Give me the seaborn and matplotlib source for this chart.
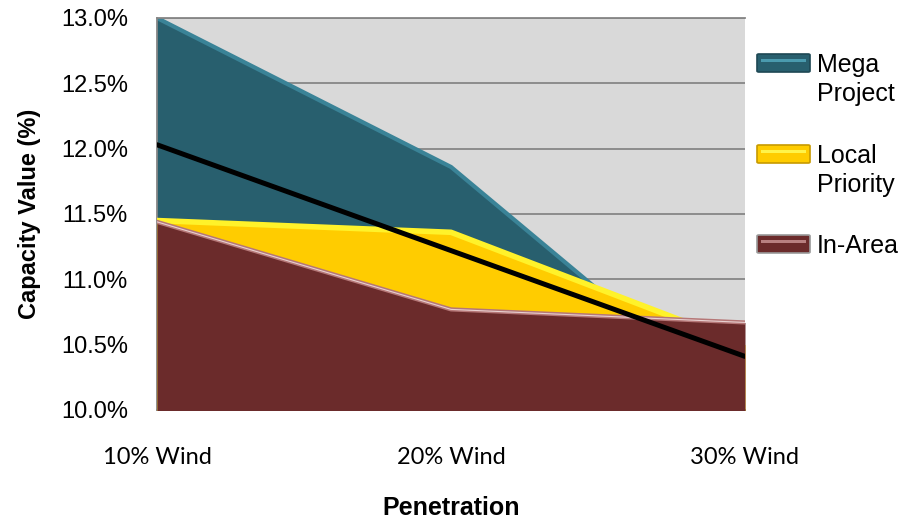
import matplotlib
matplotlib.use("Agg")
import matplotlib.pyplot as plt
from matplotlib.patches import FancyBboxPatch
import seaborn as sns
import pandas as pd

# ---- data ----
penetration = ["10% Wind", "20% Wind", "30% Wind"]
mega_project = [13.00, 11.86, 9.98]
local_priority = [11.45, 11.36, 10.50]
in_area = [11.44, 10.77, 10.67]
trend = [12.03, 11.22, 10.41]
y_ticks = [10.0, 10.5, 11.0, 11.5, 12.0, 12.5, 13.0]
series_names = ["Mega\nProject", "Local\nPriority", "In-Area"]

df = pd.DataFrame({
    "pos": range(len(penetration)),
    "label": penetration,
    "mega": mega_project,
    "local": local_priority,
    "inarea": in_area,
    "trend": trend,
})

sns.set_style("white")
plt.rcParams["font.family"] = ["Liberation Sans", "DejaVu Sans"]
plt.rcParams["text.color"] = "black"
plt.rcParams["axes.labelcolor"] = "black"
plt.rcParams["xtick.color"] = "black"
plt.rcParams["ytick.color"] = "black"

W, H = 904, 520
fig = plt.figure(figsize=(W / 100, H / 100), dpi=100)
ax = fig.add_axes([157 / W, 1 - 410 / H, (745 - 157) / W, (410 - 18) / H])
ax.set_facecolor("#D9D9D9")

base = 9.0
# Mega Project (back)
ax.fill_between(df["pos"], base, df["mega"], color="#285F6E", lw=0, zorder=2)
sns.lineplot(data=df, x="pos", y="mega", ax=ax, color="#3A8397", lw=3, zorder=2.1)
# Local Priority
ax.fill_between(df["pos"], base, df["local"], color="#FFCC00", lw=0, zorder=3)
sns.lineplot(data=df, x="pos", y="local", ax=ax, color="#FFF22A", lw=4, zorder=3.1)
# In-Area (front)
ax.fill_between(df["pos"], base, df["inarea"], color="#6B2B2B", lw=0, zorder=4)
sns.lineplot(data=df, x="pos", y="inarea", ax=ax, color="#B57777", lw=3, zorder=4.1)
sns.lineplot(data=df, x="pos", y="inarea", ax=ax, color="#E8D0D0", lw=0.8, zorder=4.2)
# trend line
sns.lineplot(data=df, x="pos", y="trend", ax=ax, color="black", lw=3.6, zorder=6)

ax.set_xlim(0, len(penetration) - 1)
ax.set_ylim(y_ticks[0], y_ticks[-1])
ax.set_yticks(y_ticks)
ax.set_yticklabels([f"{v:.1f}%" for v in y_ticks], fontsize=17, color="black")
ax.set_xticks(df["pos"])
ax.set_xticklabels(df["label"], fontsize=17, family=["Lato", "DejaVu Sans"], color="black")
ax.tick_params(axis="y", length=0, pad=21)
ax.tick_params(axis="x", length=0, pad=27)

ax.set_axisbelow(True)
ax.grid(axis="y", color="#868686", lw=1.3, zorder=1)
ax.grid(axis="x", visible=False)
for s in ["left", "top", "bottom"]:
    ax.spines[s].set_color("#868686")
    ax.spines[s].set_linewidth(1.3)
ax.spines["right"].set_visible(False)

ax.set_xlabel("Penetration", fontsize=18, fontweight="bold", labelpad=20, color="black")
ax.set_ylabel("Capacity Value (%)", fontsize=17, fontweight="bold", labelpad=14, color="black")

# ---- legend (built by hand to match layout) ----
legend_fill = ["#285F6E", "#FFCC00", "#6B2B2B"]
legend_hi = ["#4A9AAE", "#FFF44A", "#B88080"]
legend_edge = ["#1E4854", "#C79A00", "#9A9A9A"]
tops = [54, 145, 235]
for name, fc, hc, ec, top in zip(series_names, legend_fill, legend_hi, legend_edge, tops):
    x0, x1 = 757, 810
    h = 18
    fig.add_artist(FancyBboxPatch((x0 / W, 1 - (top + h) / H), (x1 - x0) / W, h / H,
                                  boxstyle="round,pad=0,rounding_size=0.002",
                                  transform=fig.transFigure, fc=fc, ec=ec, lw=1.2))
    fig.add_artist(FancyBboxPatch(((x0 + 4) / W, 1 - (top + 8) / H), (x1 - x0 - 8) / W, 3 / H,
                                  boxstyle="square,pad=0",
                                  transform=fig.transFigure, fc=hc, ec="none"))
    fig.text(817 / W, 1 - (top - 1) / H, name, fontsize=18, va="top", ha="left",
             linespacing=1.25, color="black")

fig.savefig("out.png", dpi=100, facecolor="white")
